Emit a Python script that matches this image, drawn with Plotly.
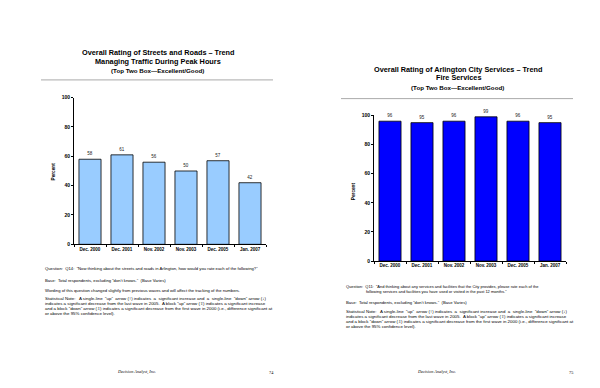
import plotly.graph_objects as go

W, H = 600, 388

categories = ["Dec. 2000", "Dec. 2001", "Nov. 2002", "Nov. 2003", "Dec. 2005", "Jan. 2007"]
traffic_values = [58, 61, 56, 50, 57, 42]
fire_values = [96, 95, 96, 99, 96, 95]
y_ticks = [0, 20, 40, 60, 80, 100]

def px(x):
    return x / W

def py(y):
    return 1 - y / H

FONT = "Liberation Sans, Arial, sans-serif"

fig = go.Figure()

fig.add_trace(go.Bar(
    x=categories, y=traffic_values, xaxis="x", yaxis="y",
    marker=dict(color="#99CCFF", line=dict(color="black", width=0.8)),
    text=[str(v) for v in traffic_values], textposition="outside",
    textfont=dict(size=4.5, color="#222", family=FONT), cliponaxis=False,
    showlegend=False,
))
fig.add_trace(go.Bar(
    x=categories, y=fire_values, xaxis="x2", yaxis="y2",
    marker=dict(color="#0000FF", line=dict(color="black", width=0.8)),
    text=[str(v) for v in fire_values], textposition="outside",
    textfont=dict(size=4.5, color="#222", family=FONT), cliponaxis=False,
    showlegend=False,
))

xax = dict(type="category", showline=True, linecolor="black", linewidth=1,
           ticks="outside", tickson="boundaries", ticklen=2, tickcolor="black",
           tickfont=dict(size=4.5, family=FONT, color="black", weight="bold"),
           showgrid=False, zeroline=False, fixedrange=True)
yax = dict(range=[0, 100], tickvals=y_ticks, showline=True, linecolor="black", linewidth=1,
           ticks="outside", ticklen=2, tickcolor="black",
           tickfont=dict(size=5, family=FONT, color="black", weight="bold"),
           showgrid=False, zeroline=False, fixedrange=True)

fig.update_layout(
    width=W, height=H, margin=dict(l=0, r=0, t=0, b=0),
    paper_bgcolor="white", plot_bgcolor="white",
    bargap=0.31,
    xaxis=dict(domain=[px(66), px(258)], anchor="y", **xax),
    yaxis=dict(domain=[py(237), py(88)], anchor="x", **yax),
    xaxis2=dict(domain=[px(366), px(558)], anchor="y2", **xax),
    yaxis2=dict(domain=[py(254), py(106)], anchor="x2", **yax),
    font=dict(family=FONT),
)

ann = []

def text(x, y, s, size=4, bold=False, anchor="left", italic=False, fam=FONT, angle=0):
    if bold:
        s = "<b>" + s + "</b>"
    if italic:
        s = "<i>" + s + "</i>"
    ann.append(dict(x=px(x), y=py(y), xref="paper", yref="paper", text=s,
                    showarrow=False, xanchor=anchor, yanchor="middle", align="left",
                    textangle=angle,
                    font=dict(size=size, family=fam, color="black")))

# Left page titles
text(150, 42, "Overall Rating of Streets and Roads – Trend", 7.3, True, "center")
text(150, 51, "Managing Traffic During Peak Hours", 7.3, True, "center")
text(149, 60, "(Top Two Box—Excellent/Good)", 6.2, True, "center")
# Right page titles
text(450, 59, "Overall Rating of Arlington City Services – Trend", 7.3, True, "center")
text(450, 68, "Fire Services", 7.3, True, "center")
text(449, 77.5, "(Top Two Box—Excellent/Good)", 6.2, True, "center")

# Percent titles
text(45, 163, "Percent", 4.7, True, "center", angle=-90)
text(345, 183, "Percent", 4.7, True, "center", angle=-90)

BODY = 4.2
STAT = 4.4
# Left notes
text(35, 262, "Question:  Q14:  \u201cNow thinking about the streets and roads in Arlington, how would you rate each of the following?\u201d", BODY)
text(35, 274, "Base:  Total respondents, excluding \u201cdon\u2019t knows.\u201d  (Base Varies)", BODY)
text(35, 283.5, "Wording of this question changed slightly from previous waves and will affect the tracking of the numbers.", BODY)
stat_lines = [
    "Statistical Note:   A single-line  \u201cup\u201d  arrow (\u2191) indicates  a  significant increase and  a  single-line  \u201cdown\u201d arrow (\u2193)",
    "indicates a significant decrease from the last wave in 2005.  A block \u201cup\u201d arrow (\u21e7) indicates a significant increase",
    "and a block \u201cdown\u201d arrow (\u21e9) indicates a significant decrease from the first wave in 2000 (i.e., difference significant at",
    "or above the 95% confidence level).",
]
for i, s in enumerate(stat_lines):
    text(35, 292 + 5 * i, s, STAT)

# Right notes
text(336, 280, "Question:  Q11:  \u201cAnd thinking about any services and facilities that the City provides, please rate each of the", 4.0)
text(356, 285, "following services and facilities you have used or visited in the past 12 months.\u201d", 4.0)
text(336, 296, "Base:  Total respondents, excluding \u201cdon\u2019t knows.\u201d  (Base Varies)", BODY)
for i, s in enumerate(stat_lines):
    text(336, 305 + 5 * i, s, STAT)

# Footers
SERIF = "Liberation Serif, Times New Roman, serif"
text(128, 367, "Decision Analyst, Inc.", 4.3, italic=True, anchor="center", fam=SERIF)
text(263, 367, "74", 4.3, anchor="center", fam=SERIF)
text(428, 367, "Decision Analyst, Inc.", 4.3, italic=True, anchor="center", fam=SERIF)
text(563, 367, "75", 4.3, anchor="center", fam=SERIF)

fig.update_layout(annotations=ann)

shapes = [
    dict(type="line", xref="paper", yref="paper", x0=px(33), x1=px(265), y0=py(70), y1=py(70),
         line=dict(color="#aaaaaa", width=1)),
    dict(type="line", xref="paper", yref="paper", x0=px(333), x1=px(565), y0=py(89), y1=py(89),
         line=dict(color="#aaaaaa", width=1)),
]
fig.update_layout(shapes=shapes)

fig.write_html("out.html")
